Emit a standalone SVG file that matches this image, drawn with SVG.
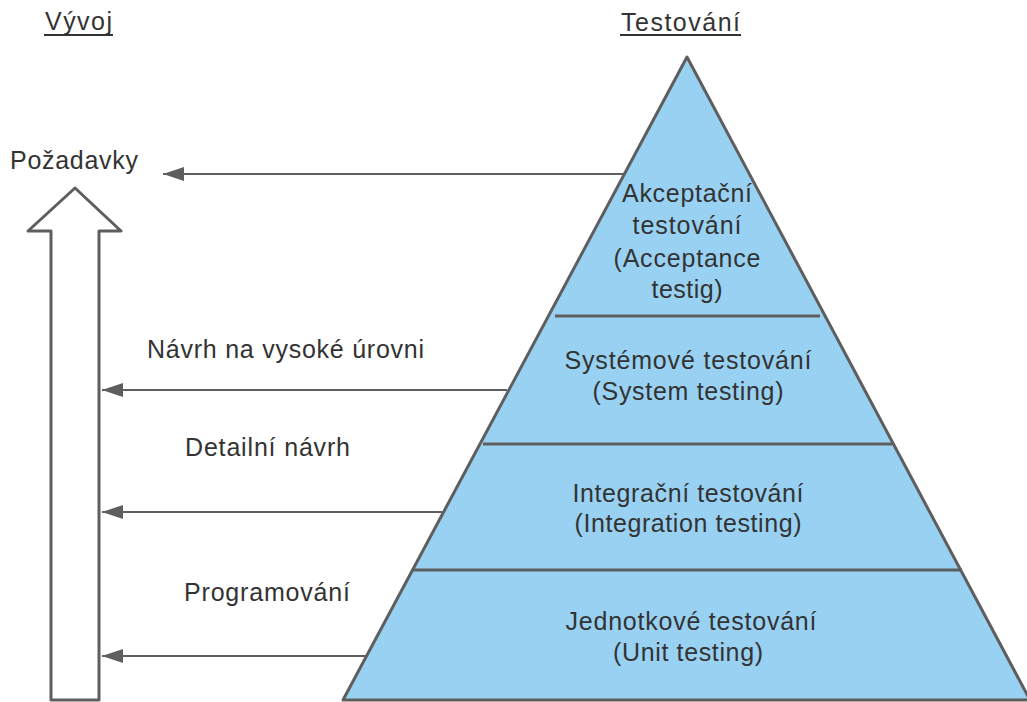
<svg xmlns="http://www.w3.org/2000/svg" width="1027" height="702" viewBox="0 0 1027 702">
  <defs>
    <marker id="head" viewBox="0 0 21 14" refX="21" refY="7" markerWidth="21" markerHeight="14" markerUnits="userSpaceOnUse" orient="auto">
      <path d="M21,7 L0,0 L0,14 Z" fill="#5e5e5e"/>
    </marker>
    <style>
      .t { font-family: "Liberation Sans", Arial, sans-serif; font-size: 25px; fill: #333333; }
      .c { text-anchor: middle; }
      .link { stroke: #5e5e5e; stroke-width: 2; fill: none; }
      .shape { stroke: #5e5e5e; stroke-width: 3; stroke-linejoin: round; }
    </style>
  </defs>

  <rect width="1027" height="702" fill="#ffffff"/>

  <!-- column headings -->
  <g id="heading-vyvoj">
    <text class="t" x="45" y="30" textLength="67" lengthAdjust="spacing">Vývoj</text>
    <line x1="44" y1="35" x2="113" y2="35" stroke="#333333" stroke-width="2"/>
  </g>
  <g id="heading-testovani">
    <text class="t" x="621" y="31" textLength="119" lengthAdjust="spacing">Testování</text>
    <line x1="620" y1="35" x2="741" y2="35" stroke="#333333" stroke-width="2"/>
  </g>

  <!-- development direction: hollow block arrow -->
  <g id="dev-arrow">
    <path class="shape" fill="#ffffff" d="M51,700 L51,231 L28,231 L75,188 L121,231 L99,231 L99,700 Z"/>
  </g>

  <!-- testing pyramid -->
  <g id="pyramid">
    <path class="shape" fill="#99d1f2" d="M687,57 L1030,700 L343,700 Z"/>
    <line class="shape" x1="555" y1="316" x2="820" y2="316"/>
    <line class="shape" x1="483" y1="444" x2="892" y2="444"/>
    <line class="shape" x1="413" y1="570" x2="962" y2="570"/>
  </g>

  <g id="level-acceptance">
    <text class="t c" x="687" y="202" textLength="130" lengthAdjust="spacing">Akceptační</text>
    <text class="t c" x="687" y="234" textLength="109" lengthAdjust="spacing">testování</text>
    <text class="t c" x="687" y="267" textLength="147" lengthAdjust="spacing">(Acceptance</text>
    <text class="t c" x="687" y="298" textLength="71" lengthAdjust="spacing">testig)</text>
  </g>
  <g id="level-system">
    <text class="t c" x="688" y="369" textLength="247" lengthAdjust="spacing">Systémové testování</text>
    <text class="t c" x="688" y="400" textLength="191" lengthAdjust="spacing">(System testing)</text>
  </g>
  <g id="level-integration">
    <text class="t c" x="688" y="502" textLength="231" lengthAdjust="spacing">Integrační testování</text>
    <text class="t c" x="688" y="532" textLength="227" lengthAdjust="spacing">(Integration testing)</text>
  </g>
  <g id="level-unit">
    <text class="t c" x="691" y="630" textLength="251" lengthAdjust="spacing">Jednotkové testování</text>
    <text class="t c" x="688" y="661" textLength="150" lengthAdjust="spacing">(Unit testing)</text>
  </g>

  <!-- development stage labels -->
  <g id="stage-pozadavky">
    <text class="t" x="10" y="169" textLength="128" lengthAdjust="spacing">Požadavky</text>
  </g>
  <g id="stage-navrh">
    <text class="t" x="147" y="358" textLength="277" lengthAdjust="spacing">Návrh na vysoké úrovni</text>
  </g>
  <g id="stage-detail">
    <text class="t" x="185" y="456" textLength="165" lengthAdjust="spacing">Detailní návrh</text>
  </g>
  <g id="stage-programovani">
    <text class="t" x="184" y="601" textLength="166" lengthAdjust="spacing">Programování</text>
  </g>

  <!-- connectors from pyramid levels to development stages -->
  <g id="connectors">
    <line class="link" x1="625" y1="174" x2="163" y2="174" marker-end="url(#head)"/>
    <line class="link" x1="507" y1="390" x2="102" y2="390" marker-end="url(#head)"/>
    <line class="link" x1="442" y1="512" x2="102" y2="512" marker-end="url(#head)"/>
    <line class="link" x1="366" y1="656" x2="102" y2="656" marker-end="url(#head)"/>
  </g>
</svg>
